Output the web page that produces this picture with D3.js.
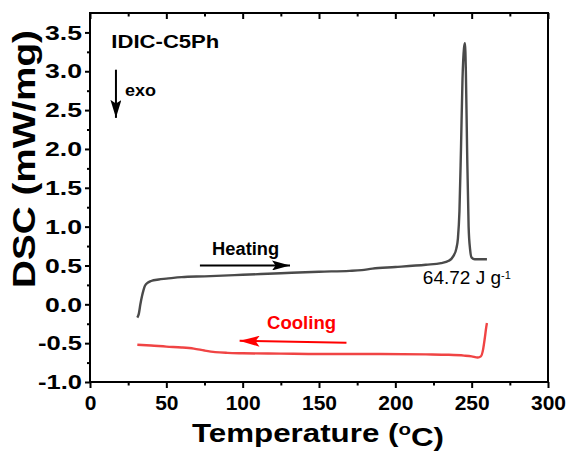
<!DOCTYPE html>
<html>
<head>
<meta charset="utf-8">
<script src="https://cdn.jsdelivr.net/npm/d3@7"></script>
<style>
  body { margin: 0; background: #fff; }
  svg { display: block; font-family: Arial, "Liberation Sans", sans-serif; }
  .domain { display: none; }
</style>
</head>
<body>
<svg id="chart" width="571" height="454"></svg>
<script>
// heating scan (temperature in C, DSC in mW/mg)
var heatT = [31, 32, 33, 34, 35, 36, 38, 40, 45, 50, 60, 75, 100, 125, 150, 170, 178, 185, 200, 220, 230, 235, 238, 240, 241, 242, 243, 244, 245, 245.6, 246.2, 247, 248, 249, 250, 252, 256, 260];
var heatY = [-0.17, -0.12, 0.0, 0.10, 0.18, 0.24, 0.28, 0.30, 0.32, 0.33, 0.35, 0.36, 0.38, 0.40, 0.42, 0.43, 0.44, 0.46, 0.48, 0.51, 0.53, 0.56, 0.62, 0.72, 0.85, 1.2, 2.0, 2.9, 3.3, 3.36, 3.0, 2.0, 1.0, 0.7, 0.6, 0.58, 0.58, 0.58];

// cooling scan
var coolT = [31, 40, 50, 60, 68, 75, 82, 90, 100, 125, 150, 190, 220, 235, 245, 250, 254, 256, 257.5, 258.5, 259.5, 260];
var coolY = [-0.52, -0.53, -0.545, -0.555, -0.57, -0.595, -0.615, -0.625, -0.63, -0.635, -0.64, -0.64, -0.645, -0.65, -0.66, -0.67, -0.685, -0.67, -0.58, -0.45, -0.30, -0.24];

var xTicks = [0, 50, 100, 150, 200, 250, 300];
var xMinor = [25, 75, 125, 175, 225, 275];
var yTicks = [-1.0, -0.5, 0.0, 0.5, 1.0, 1.5, 2.0, 2.5, 3.0, 3.5];
var yMinor = [-0.75, -0.25, 0.25, 0.75, 1.25, 1.75, 2.25, 2.75, 3.25];

var margin = {top: 13, right: 23, bottom: 72, left: 90};
var width = 571 - margin.left - margin.right;
var height = 454 - margin.top - margin.bottom;

var svg = d3.select("#chart");
var chart = svg.append("g")
  .attr("transform", "translate(" + margin.left + "," + margin.top + ")");

var x = d3.scaleLinear().domain([0, 300]).range([0, width]);
var y = d3.scaleLinear().domain([-1, 3.75]).range([height, 0]);

function styleTicks(g, size) {
  g.selectAll(".tick line").attr("stroke", "#000").attr("stroke-width", 2);
  g.selectAll(".tick text").attr("fill", "#000").style("font-size", size + "px").style("font-weight", "bold");
}

// bottom axis, ticks outward
chart.append("g")
  .attr("transform", "translate(0," + height + ")")
  .call(d3.axisBottom(x).tickValues(xTicks).tickSize(6).tickPadding(7).tickFormat(d3.format("d")))
  .call(styleTicks, 21);
chart.append("g")
  .attr("transform", "translate(0," + height + ")")
  .call(d3.axisBottom(x).tickValues(xMinor).tickSize(3.5).tickFormat(""))
  .call(styleTicks, 0);

// top axis, ticks inward
chart.append("g")
  .call(d3.axisBottom(x).tickValues(xTicks).tickSize(6).tickFormat(""))
  .call(styleTicks, 0);
chart.append("g")
  .call(d3.axisBottom(x).tickValues(xMinor).tickSize(3.5).tickFormat(""))
  .call(styleTicks, 0);

// left axis (labels drawn wide like the original)
chart.append("g")
  .call(d3.axisLeft(y).tickValues(yTicks).tickSize(5).tickPadding(3).tickFormat(function(d) { return d.toFixed(1); }))
  .call(styleTicks, 21)
  .selectAll(".tick text")
  .attr("textLength", function(d) { return d < 0 ? 44 : 37; })
  .attr("lengthAdjust", "spacingAndGlyphs");
chart.append("g")
  .call(d3.axisLeft(y).tickValues(yMinor).tickSize(3).tickFormat(""))
  .call(styleTicks, 0);

// frame
chart.append("rect")
  .attr("width", width).attr("height", height)
  .attr("fill", "none").attr("stroke", "#000").attr("stroke-width", 2);

var line = d3.line()
  .x(function(d) { return x(d[0]); })
  .y(function(d) { return y(d[1]); })
  .curve(d3.curveMonotoneX);

chart.append("path")
  .datum(d3.zip(heatT, heatY))
  .attr("d", line)
  .attr("fill", "none").attr("stroke", "#4a4a4a").attr("stroke-width", 2.4)
  .attr("stroke-linejoin", "round");

chart.append("path")
  .datum(d3.zip(coolT, coolY))
  .attr("d", line)
  .attr("fill", "none").attr("stroke", "#f04444").attr("stroke-width", 2.4)
  .attr("stroke-linejoin", "round");

// arrow heads
var defs = svg.append("defs");
function marker(id, color, len, wid) {
  defs.append("marker")
    .attr("id", id)
    .attr("viewBox", "0 0 10 10")
    .attr("refX", 10).attr("refY", 5)
    .attr("markerUnits", "userSpaceOnUse")
    .attr("markerWidth", len).attr("markerHeight", wid)
    .attr("orient", "auto")
    .attr("preserveAspectRatio", "none")
    .append("path").attr("d", "M0,0L10,5L0,10L2,5Z").attr("fill", color);
}
marker("arrBlack", "#000", 18, 10);
marker("arrExo", "#000", 18, 11);
marker("arrRed", "#ff0000", 20, 11);

// sample name
chart.append("text")
  .attr("x", x(14)).attr("y", y(3.3))
  .style("font-size", "19px").style("font-weight", "bold")
  .attr("textLength", 108).attr("lengthAdjust", "spacingAndGlyphs")
  .text("IDIC-C5Ph");

// exo arrow
chart.append("line")
  .attr("x1", x(17)).attr("x2", x(17))
  .attr("y1", y(3.02)).attr("y2", y(2.4))
  .attr("stroke", "#000").attr("stroke-width", 2)
  .attr("marker-end", "url(#arrExo)");
chart.append("text")
  .attr("x", x(23)).attr("y", y(2.68))
  .style("font-size", "17px").style("font-weight", "bold")
  .attr("textLength", 31).attr("lengthAdjust", "spacingAndGlyphs")
  .text("exo");

// heating label + arrow
chart.append("text")
  .attr("x", x(80)).attr("y", y(0.63))
  .style("font-size", "18px").style("font-weight", "bold")
  .attr("textLength", 67).attr("lengthAdjust", "spacingAndGlyphs")
  .text("Heating");
chart.append("line")
  .attr("x1", x(72)).attr("x2", x(131))
  .attr("y1", y(0.5)).attr("y2", y(0.5))
  .attr("stroke", "#000").attr("stroke-width", 2)
  .attr("marker-end", "url(#arrBlack)");

// cooling label + arrow
chart.append("text")
  .attr("x", x(116)).attr("y", y(-0.32))
  .attr("fill", "#ff0000")
  .style("font-size", "18px").style("font-weight", "bold")
  .attr("textLength", 69).attr("lengthAdjust", "spacingAndGlyphs")
  .text("Cooling");
chart.append("line")
  .attr("x1", x(168)).attr("x2", x(98))
  .attr("y1", y(-0.495)).attr("y2", y(-0.47))
  .attr("stroke", "#ff0000").attr("stroke-width", 2)
  .attr("marker-end", "url(#arrRed)");

// enthalpy
var enth = chart.append("text")
  .attr("x", x(218)).attr("y", y(0.26))
  .style("font-size", "19px")
  .text("64.72 J g");
enth.append("tspan")
  .attr("dy", "-0.45em")
  .style("font-size", "11px")
  .text("-1");

// axis titles
chart.append("text")
  .attr("x", width / 2 - 1).attr("y", height + 60)
  .attr("text-anchor", "middle")
  .style("font-size", "26px").style("font-weight", "bold")
  .attr("textLength", 252).attr("lengthAdjust", "spacingAndGlyphs")
  .text("Temperature (")
  .append("tspan").attr("dy", "-0.4em").style("font-size", "17px").text("o")
  .select(function() { return this.parentNode; })
  .append("tspan").attr("dy", "0.4em").text("C)");

chart.append("text")
  .attr("transform", "translate(" + (35 - margin.left) + "," + (159 - margin.top) + ") rotate(-90)")
  .attr("text-anchor", "middle")
  .style("font-size", "32px").style("font-weight", "bold")
  .attr("textLength", 258).attr("lengthAdjust", "spacingAndGlyphs")
  .text("DSC (mW/mg)");
</script>
</body>
</html>
